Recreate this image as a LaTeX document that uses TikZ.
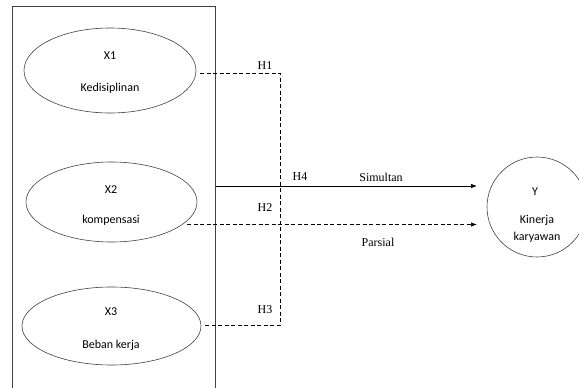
\documentclass[tikz,border=0pt]{standalone}
\usepackage{fontspec}
\setmainfont{Liberation Serif}
\newfontfamily\carlitofnt{Carlito}
\usetikzlibrary{shapes.geometric,arrows.meta}
\begin{document}
\begin{tikzpicture}[x=1pt,y=-1pt,
  shp/.style={draw=black!75,line width=0.6pt,inner sep=0pt},
  ell/.style={shp,ellipse},
  lab/.style={font=\carlitofnt\fontsize{12}{12}\selectfont,inner sep=0pt},
  hlab/.style={font=\fontsize{12}{12}\selectfont,inner sep=0pt},
  dsh/.style={line width=0.7pt,dash pattern=on 4pt off 2.5pt},
  sol/.style={line width=0.7pt},
  arr/.style={-{Latex[length=6pt,width=4.5pt]}}]
\useasboundingbox (0,0) rectangle (579,388);
\clip (0,0) rectangle (579,388);
% big box
\node[shp,rectangle,minimum width=203pt,minimum height=383pt,anchor=north west] (box) at (12,6) {};
% ellipses
\node[ell,minimum width=172pt,minimum height=85pt] (x1) at (110,70.5) {};
\node[ell,minimum width=171pt,minimum height=80pt] (x2) at (111.5,202) {};
\node[ell,minimum width=179pt,minimum height=78pt] (x3) at (111.5,326) {};
\node[lab] (t1a) at (110,56) {X1};
\node[lab] (t1b) at (110,88) {Kedisiplinan};
\node[lab] (t2a) at (111,190) {X2};
\node[lab] (t2b) at (111,220) {kompensasi};
\node[lab] (t3a) at (111,312) {X3};
\node[lab] (t3b) at (111,345) {Beban kerja};
% Y circle
\node[shp,circle,minimum size=100pt] (y) at (537,207) {};
\node[lab] (ya) at (535,192) {Y};
\node[lab] (yb) at (537,220) {Kinerja};
\node[lab] (yc) at (537,237) {karyawan};
% coordinates
\coordinate (s1) at (200,73);
\coordinate (j1) at (280,73);
\coordinate (s3) at (203,325);
\coordinate (j3) at (280,325);
\coordinate (s4) at (box.east |- 0,186);
\coordinate (e4) at (477,186);
\coordinate (s2) at (187,224.5);
\coordinate (e2) at (477,224.5);
% connectors
\draw[dsh] (s1) -- (j1) -- (j3) -- (s3);
\draw[sol,arr] (s4) -- (e4);
\draw[dsh,arr] (s2) -- (e2);
% labels
\node[hlab] (h1) at (265,65.5) {H1};
\node[hlab] (h3) at (265,310) {H3};
\node[hlab] (h2) at (265,208) {H2};
\node[hlab] (h4) at (300,177) {H4};
\node[hlab] (sim) at (381,177) {Simultan};
\node[hlab] (par) at (378,242) {Parsial};
\end{tikzpicture}
\end{document}
